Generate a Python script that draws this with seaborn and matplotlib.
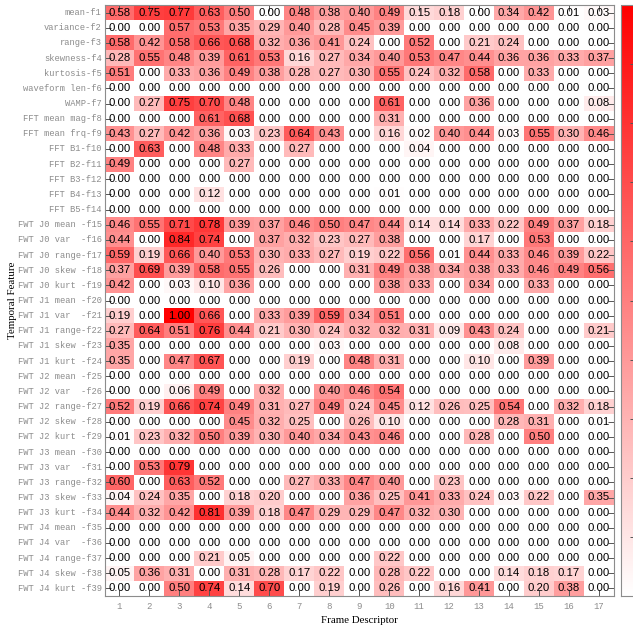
import matplotlib
matplotlib.use("Agg")
import matplotlib.pyplot as plt
import numpy as np
import pandas as pd
import seaborn as sns
from matplotlib.colors import LinearSegmentedColormap

# ── Data ─────────────────────────────────────────────────────────────────
features = [
    "mean-f1", "variance-f2", "range-f3", "skewness-f4", "kurtosis-f5",
    "waveform len-f6", "WAMP-f7", "FFT mean mag-f8", "FFT mean frq-f9",
    "FFT B1-f10", "FFT B2-f11", "FFT B3-f12", "FFT B4-f13", "FFT B5-f14",
    "FWT J0 mean -f15", "FWT J0 var  -f16", "FWT J0 range-f17",
    "FWT J0 skew -f18", "FWT J0 kurt -f19",
    "FWT J1 mean -f20", "FWT J1 var  -f21", "FWT J1 range-f22",
    "FWT J1 skew -f23", "FWT J1 kurt -f24",
    "FWT J2 mean -f25", "FWT J2 var  -f26", "FWT J2 range-f27",
    "FWT J2 skew -f28", "FWT J2 kurt -f29",
    "FWT J3 mean -f30", "FWT J3 var  -f31", "FWT J3 range-f32",
    "FWT J3 skew -f33", "FWT J3 kurt -f34",
    "FWT J4 mean -f35", "FWT J4 var  -f36", "FWT J4 range-f37",
    "FWT J4 skew -f38", "FWT J4 kurt -f39",
]
descriptors = [str(i) for i in range(1, 18)]

Z = [0.0] * 17
f1 = [0.58, 0.75, 0.77, 0.63, 0.50, 0.00, 0.48, 0.38, 0.40, 0.49, 0.15, 0.18, 0.00, 0.34, 0.42, 0.01, 0.03]
f2 = [0.00, 0.00, 0.57, 0.53, 0.35, 0.29, 0.40, 0.28, 0.45, 0.39, 0.00, 0.00, 0.00, 0.00, 0.00, 0.00, 0.00]
f3 = [0.58, 0.42, 0.58, 0.66, 0.68, 0.32, 0.36, 0.41, 0.24, 0.00, 0.52, 0.00, 0.21, 0.24, 0.00, 0.00, 0.00]
f4 = [0.28, 0.55, 0.48, 0.39, 0.61, 0.53, 0.16, 0.27, 0.34, 0.40, 0.53, 0.47, 0.44, 0.36, 0.36, 0.33, 0.37]
f5 = [0.51, 0.00, 0.33, 0.36, 0.49, 0.38, 0.28, 0.27, 0.30, 0.55, 0.24, 0.32, 0.58, 0.00, 0.33, 0.00, 0.00]
f6 = Z
f7 = [0.00, 0.27, 0.75, 0.70, 0.48, 0.00, 0.00, 0.00, 0.00, 0.61, 0.00, 0.00, 0.36, 0.00, 0.00, 0.00, 0.08]
f8 = [0.00, 0.00, 0.00, 0.61, 0.68, 0.00, 0.00, 0.00, 0.00, 0.31, 0.00, 0.00, 0.00, 0.00, 0.00, 0.00, 0.00]
f9 = [0.43, 0.27, 0.42, 0.36, 0.03, 0.23, 0.64, 0.43, 0.00, 0.16, 0.02, 0.40, 0.44, 0.03, 0.55, 0.30, 0.46]
f10 = [0.00, 0.63, 0.00, 0.48, 0.33, 0.00, 0.27, 0.00, 0.00, 0.00, 0.04, 0.00, 0.00, 0.00, 0.00, 0.00, 0.00]
f11 = [0.49, 0.00, 0.00, 0.00, 0.27, 0.00, 0.00, 0.00, 0.00, 0.00, 0.00, 0.00, 0.00, 0.00, 0.00, 0.00, 0.00]
f12 = Z
f13 = [0.00, 0.00, 0.00, 0.12, 0.00, 0.00, 0.00, 0.00, 0.00, 0.01, 0.00, 0.00, 0.00, 0.00, 0.00, 0.00, 0.00]
f14 = Z
f15 = [0.46, 0.55, 0.71, 0.78, 0.39, 0.37, 0.46, 0.50, 0.47, 0.44, 0.14, 0.14, 0.33, 0.22, 0.49, 0.37, 0.18]
f16 = [0.44, 0.00, 0.84, 0.74, 0.00, 0.37, 0.32, 0.23, 0.27, 0.38, 0.00, 0.00, 0.17, 0.00, 0.53, 0.00, 0.00]
f17 = [0.59, 0.19, 0.66, 0.40, 0.53, 0.30, 0.33, 0.27, 0.19, 0.22, 0.56, 0.01, 0.44, 0.33, 0.46, 0.39, 0.22]
f18 = [0.37, 0.69, 0.39, 0.58, 0.55, 0.26, 0.00, 0.00, 0.31, 0.49, 0.38, 0.34, 0.38, 0.33, 0.46, 0.49, 0.56]
f19 = [0.42, 0.00, 0.03, 0.10, 0.36, 0.00, 0.00, 0.00, 0.00, 0.38, 0.33, 0.00, 0.34, 0.00, 0.33, 0.00, 0.00]
f20 = Z
f21 = [0.19, 0.00, 1.00, 0.66, 0.00, 0.33, 0.39, 0.59, 0.34, 0.51, 0.00, 0.00, 0.00, 0.00, 0.00, 0.00, 0.00]
f22 = [0.27, 0.64, 0.51, 0.76, 0.44, 0.21, 0.30, 0.24, 0.32, 0.32, 0.31, 0.09, 0.43, 0.24, 0.00, 0.00, 0.21]
f23 = [0.35, 0.00, 0.00, 0.00, 0.00, 0.00, 0.00, 0.03, 0.00, 0.00, 0.00, 0.00, 0.00, 0.08, 0.00, 0.00, 0.00]
f24 = [0.35, 0.00, 0.47, 0.67, 0.00, 0.00, 0.19, 0.00, 0.48, 0.31, 0.00, 0.00, 0.10, 0.00, 0.39, 0.00, 0.00]
f25 = Z
f26 = [0.00, 0.00, 0.06, 0.49, 0.00, 0.32, 0.00, 0.40, 0.46, 0.54, 0.00, 0.00, 0.00, 0.00, 0.00, 0.00, 0.00]
f27 = [0.52, 0.19, 0.66, 0.74, 0.49, 0.31, 0.27, 0.49, 0.24, 0.45, 0.12, 0.26, 0.25, 0.54, 0.00, 0.32, 0.18]
f28 = [0.00, 0.00, 0.00, 0.00, 0.45, 0.32, 0.25, 0.00, 0.26, 0.10, 0.00, 0.00, 0.00, 0.28, 0.31, 0.00, 0.01]
f29 = [0.01, 0.23, 0.32, 0.50, 0.39, 0.30, 0.40, 0.34, 0.43, 0.46, 0.00, 0.00, 0.28, 0.00, 0.50, 0.00, 0.00]
f30 = Z
f31 = [0.00, 0.53, 0.79, 0.00, 0.00, 0.00, 0.00, 0.00, 0.00, 0.00, 0.00, 0.00, 0.00, 0.00, 0.00, 0.00, 0.00]
f32 = [0.60, 0.00, 0.63, 0.52, 0.00, 0.00, 0.27, 0.33, 0.47, 0.40, 0.00, 0.23, 0.00, 0.00, 0.00, 0.00, 0.00]
f33 = [0.04, 0.24, 0.35, 0.00, 0.18, 0.20, 0.00, 0.00, 0.36, 0.25, 0.41, 0.33, 0.24, 0.03, 0.22, 0.00, 0.35]
f34 = [0.44, 0.32, 0.42, 0.81, 0.39, 0.18, 0.47, 0.29, 0.29, 0.47, 0.32, 0.30, 0.00, 0.00, 0.00, 0.00, 0.00]
f35 = Z
f36 = Z
f37 = [0.00, 0.00, 0.00, 0.21, 0.05, 0.00, 0.00, 0.00, 0.00, 0.22, 0.00, 0.00, 0.00, 0.00, 0.00, 0.00, 0.00]
f38 = [0.05, 0.36, 0.31, 0.00, 0.31, 0.28, 0.17, 0.22, 0.00, 0.28, 0.22, 0.00, 0.00, 0.14, 0.18, 0.17, 0.00]
f39 = [0.00, 0.00, 0.50, 0.74, 0.14, 0.70, 0.00, 0.19, 0.00, 0.26, 0.00, 0.16, 0.41, 0.00, 0.20, 0.38, 0.00]

rows = [f1, f2, f3, f4, f5, f6, f7, f8, f9, f10, f11, f12, f13, f14, f15, f16,
        f17, f18, f19, f20, f21, f22, f23, f24, f25, f26, f27, f28, f29, f30,
        f31, f32, f33, f34, f35, f36, f37, f38, f39]
df = pd.DataFrame(rows, index=features, columns=descriptors)

# ── Plot ─────────────────────────────────────────────────────────────────
W, H = 633, 629
fig = plt.figure(figsize=(W / 100, H / 100), dpi=100)
ax = fig.add_axes([104.5 / W, 1 - 596 / H, (614 - 104.5) / W, 591 / H])
cax = fig.add_axes([621 / W, 1 - 596 / H, 16 / W, 591 / H])

cmap = LinearSegmentedColormap.from_list("white_red", ["#ffffff", "#ff0000"])
grey = "#8c8c8c"

sns.heatmap(
    df,
    annot=True,
    fmt=".2f",
    cmap=cmap,
    vmin=0,
    vmax=1,
    ax=ax,
    cbar_ax=cax,
    annot_kws={"fontsize": 8.2, "color": "black", "family": "Liberation Sans"},
)

for side in ["left", "right", "top", "bottom"]:
    ax.spines[side].set_visible(True)
    ax.spines[side].set_color(grey)
    ax.spines[side].set_linewidth(0.8)

ax.tick_params(
    axis="both", direction="in", length=4, width=0.7, color="#555555",
    top=True, right=True, labeltop=False, labelright=False,
)
ax.tick_params(axis="y", pad=2)
ax.tick_params(axis="x", pad=4)

for lab in ax.get_yticklabels():
    lab.set_family("Liberation Mono")
    lab.set_fontsize(6.3)
    lab.set_color(grey)
    lab.set_rotation(0)
for lab in ax.get_xticklabels():
    lab.set_family("Liberation Mono")
    lab.set_fontsize(6.5)
    lab.set_color(grey)
    lab.set_rotation(0)

ax.set_ylabel("Temporal Feature", family="Liberation Serif", fontsize=7.8)
ax.set_xlabel("Frame Descriptor", family="Liberation Serif", fontsize=7.8)
ax.yaxis.set_label_coords(-0.172, 0.5)
ax.xaxis.set_label_coords(0.5, -0.033)

# colorbar: ticks every 0.1, drawn inward on the right edge
cbar = ax.collections[0].colorbar
cbar.set_ticks(np.arange(0, 1.01, 0.1))
cbar.outline.set_edgecolor(grey)
cbar.outline.set_linewidth(0.8)
cax.tick_params(direction="in", length=5, width=0.7, color="#555555",
                labelright=False, right=True)

fig.savefig("out.png", dpi=100)
